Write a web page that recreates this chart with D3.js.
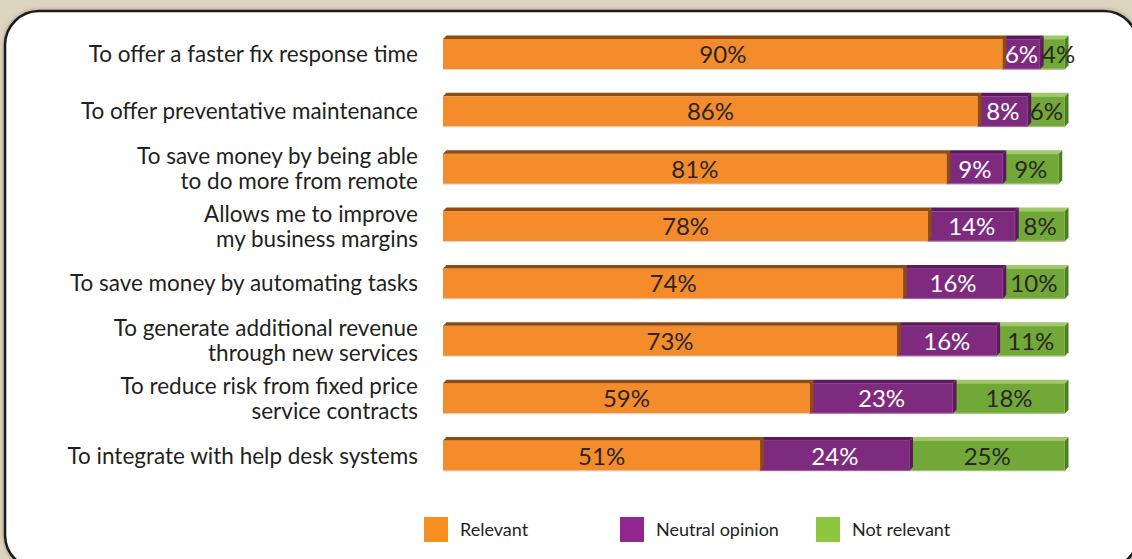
<!DOCTYPE html>
<html>
<head>
<meta charset="utf-8">
<script src="https://cdn.jsdelivr.net/npm/d3@7"></script>
<style>
  html, body { margin: 0; padding: 0; background: #dcd4bf; }
  svg { display: block; }
  text { font-family: Lato, "Open Sans", sans-serif; }
</style>
</head>
<body>
<svg id="chart" width="1132" height="559"></svg>
<script>
// Survey reasons, one row per bar (label lines split with "|")
const categories = [
  "To offer a faster fix response time",
  "To offer preventative maintenance",
  "To save money by being able|to do more from remote",
  "Allows me to improve|my business margins",
  "To save money by automating tasks",
  "To generate additional revenue|through new services",
  "To reduce risk from fixed price|service contracts",
  "To integrate with help desk systems"
];
const relevant      = [90, 86, 81, 78, 74, 73, 59, 51];
const neutral       = [6, 8, 9, 14, 16, 16, 23, 24];
const notRelevant   = [4, 6, 9, 8, 10, 11, 18, 25];
const seriesNames   = ["Relevant", "Neutral opinion", "Not relevant"];
const xTicks        = [0, 100];

const svg = d3.select("#chart");

// Panel with rounded corners and a soft halo
const defs = svg.append("defs");
const f = defs.append("filter").attr("id", "halo").attr("x", "-5%").attr("y", "-5%").attr("width", "110%").attr("height", "110%");
f.append("feGaussianBlur").attr("in", "SourceAlpha").attr("stdDeviation", 2).attr("result", "b");
f.append("feFlood").attr("flood-color", "#8a8578").attr("flood-opacity", 0.8);
f.append("feComposite").attr("in2", "b").attr("operator", "in").attr("result", "s");
const m = f.append("feMerge");
m.append("feMergeNode").attr("in", "s");
m.append("feMergeNode").attr("in", "SourceGraphic");

svg.append("rect")
  .attr("x", 5).attr("y", 11).attr("width", 1133).attr("height", 558)
  .attr("rx", 34).attr("ry", 34)
  .attr("fill", "#ffffff").attr("stroke", "#1f1d1d").attr("stroke-width", 2.6)
  .attr("filter", "url(#halo)");

// Scales
const x = d3.scaleLinear().domain(d3.extent(xTicks)).range([443, 1065]);
const y = d3.scalePoint().domain(categories).range([54, 455.5]);
const barH = 30, depth = 3.5;

const styles = [
  { front: "#f58c2c", top: "#8d4b12", side: "#8d4b12", stroke: null,      text: "#2b2626" },
  { front: "#7e2b7f", top: "#5c1a5d", side: "#5c1a5d", stroke: "#a25ba3", text: "#ffffff" },
  { front: "#72a838", top: "#a1c86a", side: "#4f7f22", stroke: "#98c263", text: "#2b2626" }
];

const rows = categories.map((c, i) => {
  const vals = [relevant[i], neutral[i], notRelevant[i]];
  let acc = 0;
  const segs = vals.map((v, k) => {
    const s = { k, v, x0: acc, x1: acc + v };
    acc += v;
    return s;
  });
  return { c, segs };
});

const g = svg.append("g");
rows.forEach(row => {
  const yc = y(row.c);
  const top = yc - barH / 2;
  const rg = g.append("g");
  // faint shadow line under the bar
  rg.append("line")
    .attr("x1", x(0)).attr("x2", x(d3.sum(row.segs, s => s.v)))
    .attr("y1", top + barH + 0.5).attr("y2", top + barH + 0.5)
    .attr("stroke", "#d9d9d9").attr("stroke-width", 1);
  // draw from right to left so each side face sits on the next segment
  row.segs.slice().reverse().forEach(s => {
    const st = styles[s.k];
    const a = x(s.x0), b = x(s.x1);
    rg.append("rect")
      .attr("x", a).attr("y", top).attr("width", b - a).attr("height", barH)
      .attr("fill", st.front)
      .attr("stroke", st.stroke || "none").attr("stroke-width", st.stroke ? 1 : 0);
    rg.append("path")
      .attr("d", `M${a},${top}L${a + depth},${top - depth}L${b + depth},${top - depth}L${b},${top}Z`)
      .attr("fill", st.top);
    rg.append("path")
      .attr("d", `M${b},${top}L${b + depth},${top - depth}L${b + depth},${top + barH - depth}L${b},${top + barH}Z`)
      .attr("fill", st.side);
  });
  row.segs.forEach(s => {
    const st = styles[s.k];
    rg.append("text")
      .attr("x", (x(s.x0) + x(s.x1)) / 2 + (s.k === 2 && s.v < 5 ? 6 : 0))
      .attr("y", yc + 9)
      .attr("text-anchor", "middle")
      .attr("font-size", 24)
      .attr("fill", st.text)
      .text(s.v + "%");
  });
  // category label
  const lines = row.c.split("|");
  const lt = g.append("text")
    .attr("text-anchor", "end")
    .attr("font-size", 22.5)
    .attr("fill", "#231f20");
  lines.forEach((ln, j) => {
    const off = lines.length === 1 ? 0 : (j === 0 ? -12.5 : 12.5);
    lt.append("tspan").attr("x", 418).attr("y", yc + 8 + off).text(ln);
  });
});

// Legend
const legendX = [424, 620, 816];
const lg = svg.append("g");
const legendColors = ["#f7901e", "#92278f", "#8dc63f"];
seriesNames.forEach((n, i) => {
  lg.append("rect").attr("x", legendX[i]).attr("y", 517).attr("width", 24).attr("height", 25).attr("fill", legendColors[i]);
  lg.append("text").attr("x", legendX[i] + 36).attr("y", 536).attr("font-size", 18).attr("fill", "#231f20").text(n);
});
</script>
</body>
</html>
